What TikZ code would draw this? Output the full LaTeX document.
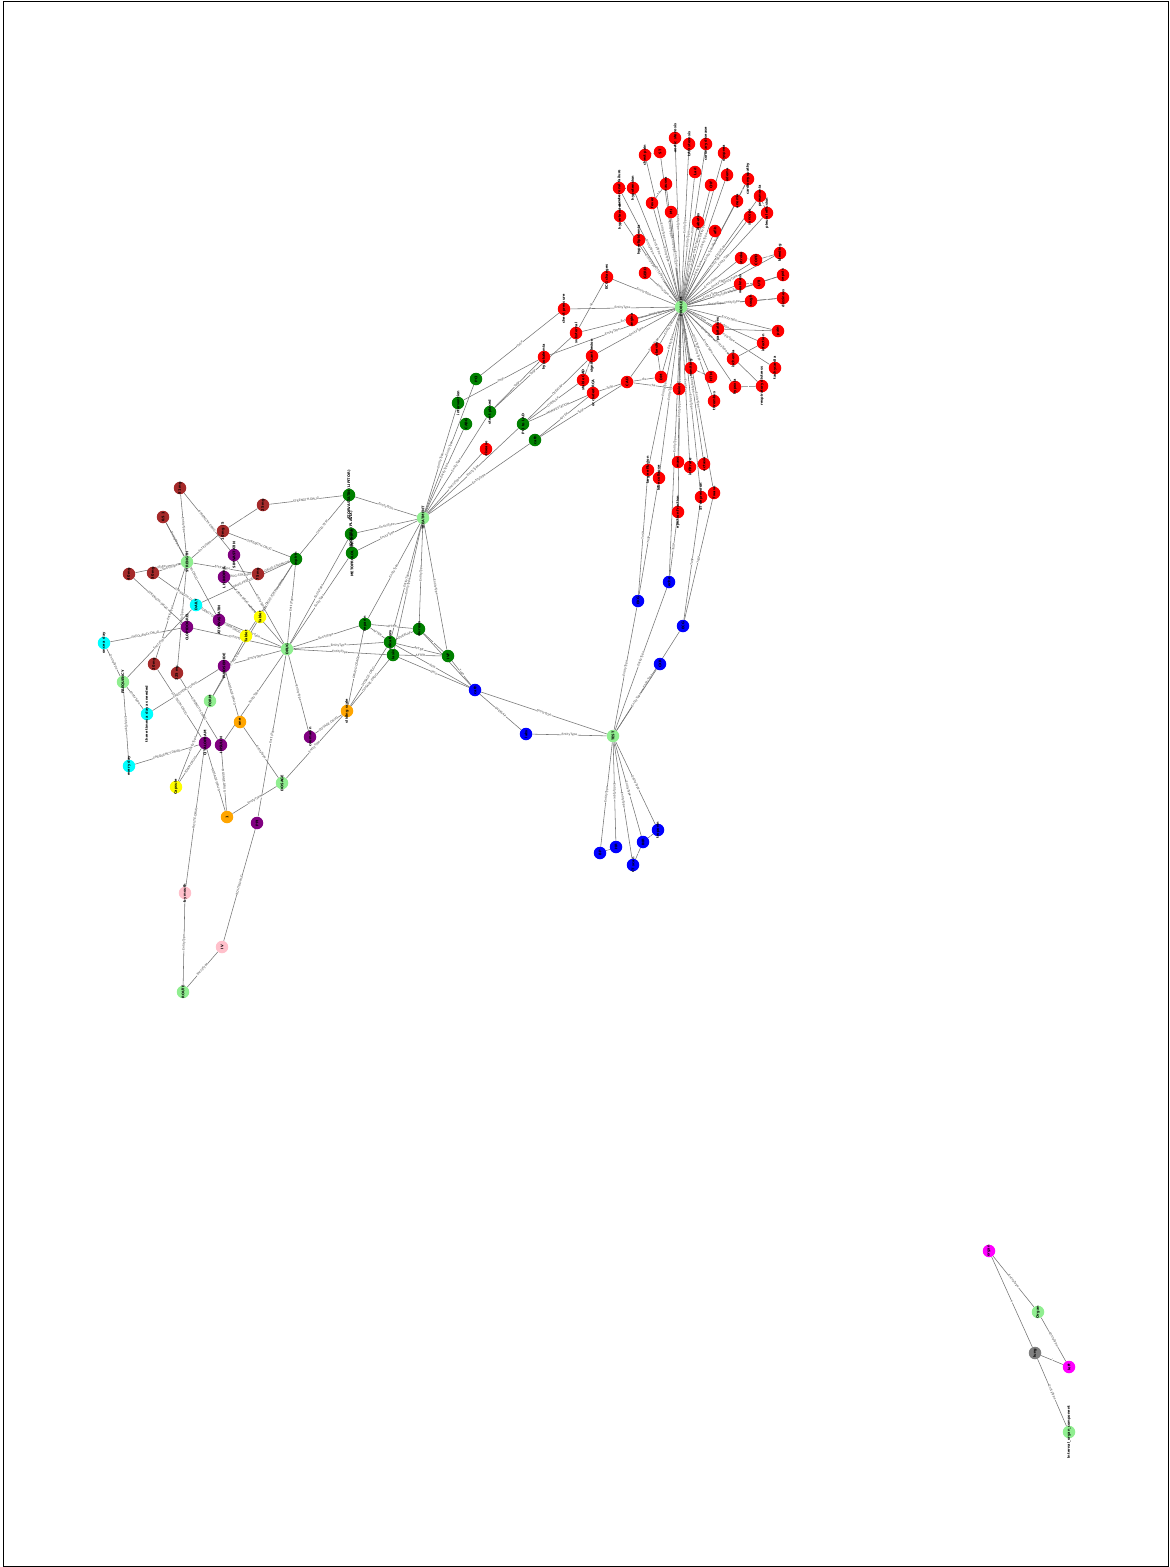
\documentclass[tikz,border=0pt]{standalone}
\usepackage{fontspec}
\setmainfont{DejaVu Sans}
\usetikzlibrary{backgrounds}
\definecolor{cRed}{HTML}{FF0000}
\definecolor{cGreen}{HTML}{008000}
\definecolor{cLight}{HTML}{90EE90}
\definecolor{cBlue}{HTML}{0000FF}
\definecolor{cBrown}{HTML}{A52A2A}
\definecolor{cPurple}{HTML}{800080}
\definecolor{cCyan}{HTML}{00FFFF}
\definecolor{cYellow}{HTML}{FFFF00}
\definecolor{cOrange}{HTML}{FFA500}
\definecolor{cPink}{HTML}{FFC0CB}
\definecolor{cMag}{HTML}{FF00FF}
\definecolor{cGray}{HTML}{808080}
\newcommand\mynd[5]{\node[dot,fill=#1,label={[lb]center:#5}] (#2) at (#3,#4) {};}
\newcommand\myed[3]{\draw[ed] (#1) -- node[el]{#3} (#2);}
\tikzset{
  dot/.style={circle,draw=none,minimum size=12.5pt,inner sep=0pt},
  lb/.style={rotate=90,font=\fontsize{3.5}{4}\selectfont\bfseries,text=black,inner sep=0pt},
  ed/.style={draw=black!55,line width=0.55pt},
  el/.style={sloped,midway,font=\fontsize{3}{3.4}\selectfont,text=black!75,fill=white,inner sep=0.2pt}
}
\begin{document}
\begin{tikzpicture}[x=1pt,y=-1pt]
\useasboundingbox (0,0) rectangle (1170,1567);
\draw[black,line width=0.8pt] (3,1) rectangle (1168,1566);
% hubs
\mynd{cLight}{H1}{681}{307}{PROBLEM}
\mynd{cLight}{TR}{423}{518}{TREATMENT}
\mynd{cLight}{TE}{613}{736}{TEST}
\mynd{cLight}{DR}{287}{649}{DRUG}
\mynd{cLight}{ST}{187}{562}{STRENGTH}
\mynd{cLight}{FQ}{123}{682}{FREQUENCY}
\mynd{cLight}{FO}{210}{701}{FORM}
\mynd{cLight}{DO}{282}{783}{DOSAGE}
\mynd{cLight}{RO}{183}{992}{ROUTE}
% red upper
\mynd{cRed}{ra}{675}{138}{aortic stenosis}
\mynd{cRed}{rb}{689}{144}{LAD stenosis}
\mynd{cRed}{rc}{706}{144}{coronary disease}
\mynd{cRed}{rd}{660}{152}{ST}
\mynd{cRed}{re}{645}{155}{chest pain}
\mynd{cRed}{rf}{724}{153}{dyspnea}
\mynd{cRed}{rg}{695}{172}{Lad}
\mynd{cRed}{rh}{666}{184}{nausea}
\mynd{cRed}{ri}{711}{185}{CHF}
\mynd{cRed}{rj}{727}{175}{edema}
\mynd{cRed}{rk}{748}{179}{cardiomyopathy}
\mynd{cRed}{rl}{619}{188}{acute renal failure}
\mynd{cRed}{rm}{633}{188}{hypotension}
\mynd{cRed}{rn}{652}{203}{fever}
\mynd{cRed}{ro}{671}{212}{MI}
\mynd{cRed}{rp}{737}{201}{anemia}
\mynd{cRed}{rq}{760}{196}{pneumonia}
\mynd{cRed}{rr}{620}{216}{hypertension}
\mynd{cRed}{rs}{698}{222}{diabetes}
\mynd{cRed}{rt}{715}{231}{afib}
\mynd{cRed}{ru}{750}{217}{syncope}
\mynd{cRed}{rv}{767}{213}{pleural effusion}
\mynd{cRed}{rw}{639}{240}{hyperlipidemia}
\mynd{cRed}{rx}{741}{258}{stroke}
\mynd{cRed}{ry}{756}{260}{COPD}
\mynd{cRed}{rz}{780}{253}{bleeding}
\mynd{cRed}{sa}{783}{275}{sepsis}
\mynd{cRed}{sb}{645}{273}{GERD}
\mynd{cRed}{sc}{607}{277}{ECG changes}
\mynd{cRed}{sd}{740}{284}{weakness}
\mynd{cRed}{se}{759}{283}{UTI}
\mynd{cRed}{sf}{751}{301}{cough}
\mynd{cRed}{sg}{783}{298}{dizziness}
\mynd{cRed}{sh}{632}{320}{angina}
\mynd{cRed}{si}{718}{329}{palpitations}
\mynd{cRed}{sj}{778}{331}{pain}
\mynd{cRed}{sk}{763}{343}{infection}
\mynd{cRed}{sl}{657}{349}{obesity}
\mynd{cRed}{sm}{733}{359}{ischemia}
\mynd{cRed}{sn}{775}{368}{tachycardia}
\mynd{cRed}{so}{691}{368}{vomiting}
\mynd{cRed}{sp}{627}{382}{CAD}
\mynd{cRed}{sq}{661}{377}{DM}
\mynd{cRed}{sr}{711}{377}{HTN}
\mynd{cRed}{ss}{679}{389}{lesion}
\mynd{cRed}{st}{735}{387}{hypoxia}
\mynd{cRed}{su}{762}{386}{respiratory distress}
\mynd{cRed}{sv}{714}{401}{thrombus}
\mynd{cRed}{ta}{564}{309}{chest pressure}
\mynd{cRed}{tb}{576}{333}{substernal}
\mynd{cRed}{tc}{544}{357}{hypokalemia}
\mynd{cRed}{td}{592}{356}{significant lesion}
\mynd{cRed}{te}{583}{380}{stable CAD}
\mynd{cRed}{tf}{593}{393}{occluded RCA}
\mynd{cRed}{tg}{486}{449}{disease}
\mynd{cRed}{ua}{648}{470}{large effusion}
\mynd{cRed}{ub}{659}{478}{lobe collapse}
\mynd{cRed}{uc}{678}{462}{mass}
\mynd{cRed}{ud}{690}{467}{infiltrate}
\mynd{cRed}{ue}{704}{464}{ectasia}
\mynd{cRed}{uf}{678}{512}{ejection fraction}
\mynd{cRed}{ug}{701}{497}{ST depression}
\mynd{cRed}{uh}{714}{493}{T wave}
% blue
\mynd{cBlue}{ba}{638}{601}{EKG}
\mynd{cBlue}{bb}{669}{582}{echo}
\mynd{cBlue}{bc}{683}{626}{ECG}
\mynd{cBlue}{bd}{660}{664}{CXR}
\mynd{cBlue}{be}{475}{690}{cath}
\mynd{cBlue}{bf}{526}{734}{labs}
\mynd{cBlue}{bg}{600}{853}{BP}
\mynd{cBlue}{bh}{616}{847}{HR}
\mynd{cBlue}{bi}{633}{865}{CT scan}
\mynd{cBlue}{bj}{643}{842}{INR}
\mynd{cBlue}{bk}{658}{830}{troponin}
% green
\mynd{cGreen}{ga}{476}{379}{PCI}
\mynd{cGreen}{gb}{458}{403}{intervention}
\mynd{cGreen}{gc}{490}{412}{stent placed}
\mynd{cGreen}{gd}{466}{424}{CABG}
\mynd{cGreen}{ge}{523}{424}{PCI to LAD}
\mynd{cGreen}{gf}{535}{440}{cath}
\mynd{cGreen}{gg}{349}{495}{ATORVASTATIN (LIPITOR)}
\mynd{cGreen}{gh}{351}{534}{CLOPIDOGREL (PLAVIX)}
\mynd{cGreen}{gi}{352}{553}{METOPROLOL TARTRATE}
\mynd{cGreen}{gj}{296}{559}{aspirin}
\mynd{cGreen}{gk}{365}{624}{heparin}
\mynd{cGreen}{gl}{419}{629}{diuresis}
\mynd{cGreen}{gm}{390}{642}{medications}
\mynd{cGreen}{gn}{393}{655}{lasix}
\mynd{cGreen}{go}{448}{656}{IVF}
% brown
\mynd{cBrown}{ka}{180}{488}{81 mg}
\mynd{cBrown}{kb}{163}{517}{0.5 1}
\mynd{cBrown}{kc}{263}{505}{25 mg}
\mynd{cBrown}{kd}{223}{531}{10 mg / 5}
\mynd{cBrown}{ke}{129}{574}{40 mg}
\mynd{cBrown}{kf}{153}{573}{50 mg}
\mynd{cBrown}{kg}{258}{574}{75 mg}
\mynd{cBrown}{kh}{154}{664}{20 mg}
\mynd{cBrown}{ki}{177}{673}{325 mg}
% purple
\mynd{cPurple}{pa}{234}{555}{SIMVASTATIN}
\mynd{cPurple}{pb}{224}{577}{LISINOPRIL}
\mynd{cPurple}{pc}{219}{620}{ATORVASTATIN}
\mynd{cPurple}{pd}{187}{627}{CLOPIDOGREL}
\mynd{cPurple}{pe}{224}{666}{FUROSEMIDE}
\mynd{cPurple}{pf}{205}{743}{CITALOPRAM}
\mynd{cPurple}{pg}{221}{745}{INSULIN}
\mynd{cPurple}{ph}{257}{823}{PPI}
\mynd{cPurple}{pi}{310}{737}{coumadin}
% cyan
\mynd{cCyan}{ca}{196}{605}{DAILY}
\mynd{cCyan}{cb}{104}{643}{once a day}
\mynd{cCyan}{cc}{147}{714}{three times a day as needed}
\mynd{cCyan}{cd}{129}{766}{every day}
% yellow
\mynd{cYellow}{ya}{260}{617}{Tablet}
\mynd{cYellow}{yb}{246}{636}{Tablet}
\mynd{cYellow}{yc}{176}{787}{Capsule}
% orange
\mynd{cOrange}{oa}{240}{722}{one}
\mynd{cOrange}{ob}{227}{817}{1}
\mynd{cOrange}{oc}{347}{711}{sliding scale}
% pink
\mynd{cPink}{qa}{185}{893}{by mouth}
\mynd{cPink}{qb}{222}{947}{IV}
% bottom right
\mynd{cMag}{m1}{989}{1251}{organ}
\mynd{cLight}{l1}{1038}{1312}{Organ}
\mynd{cGray}{g1}{1035}{1353}{lung}
\mynd{cMag}{m2}{1069}{1367}{left}
\mynd{cLight}{l2}{1069}{1432}{Internal\_organ\_component}
\begin{scope}[on background layer]
% red hub spokes
\foreach \n in {ra,rb,rc,rd,re,rf,rg,rh,ri,rj,rk,rl,rm,rn,ro,rp,rq,rr,rs,rt,ru,rv,rw,rx,ry,rz,sa,sb,sc,sd,se,sf,sg,sh,si,sj,sk,sl,sm,sn,so,sp,sq,sr,ss,st,su,sv,ta,tb,tc,td,ua,ub,uc,ud,ue,uf,ug,uh,bb}
  \draw[ed] (H1) -- node[el]{EntityType} (\n);
\myed{rl}{rm}{}
\myed{re}{rd}{}
\myed{rn}{rh}{hp}
\myed{rp}{rk}{}
\myed{rq}{rv}{}
\myed{rx}{ry}{}
\myed{ry}{rz}{}
\myed{sd}{se}{}
\myed{se}{sa}{}
\myed{sf}{sg}{}
\myed{si}{sj}{}
\myed{sk}{sm}{}
\myed{so}{sr}{}
\myed{st}{su}{}
\myed{sl}{sq}{}
\myed{rr}{rl}{}
\myed{sp}{sq}{dis}
\myed{sp}{ss}{cha}
\myed{tb}{sc}{up}
\myed{te}{td}{}
\myed{tf}{sp}{TeSP}
\myed{ua}{ub}{}
\myed{uc}{ud}{}
\myed{ud}{ue}{}
\myed{ug}{uh}{}
% red to green
\myed{ga}{ta}{TeSP}
\myed{gb}{tc}{TeSP}
\myed{gc}{tc}{TeSP}
\myed{gc}{tb}{TeSP}
\myed{ge}{te}{OVERLAP}
\myed{ge}{tf}{MANIFESTATION}
\myed{ge}{td}{OVERLAP}
\myed{gf}{tf}{AFTER}
\myed{gf}{sp}{TeSP}
% lower reds to blue
\myed{ua}{ba}{TeSP}
\myed{ub}{ba}{TeSP}
\myed{uf}{bb}{TeSP}
\myed{ug}{bc}{TeSP}
\myed{uh}{bc}{TeSP}
% TEST hub
\foreach \n in {ba,bb,bc,bd,be,bf,bg,bh,bi,bj,bk}
  \draw[ed] (TE) -- node[el]{EntityType} (\n);
\myed{bg}{bh}{}
\myed{bj}{bk}{}
\myed{bi}{bj}{}
\myed{be}{bf}{OVERLAP}
\myed{be}{gm}{data}
\myed{be}{gn}{data}
\myed{be}{go}{TeSP}
\myed{be}{gl}{}
% TREATMENT hub
\foreach \n in {ga,gb,gc,gd,ge,gf,tg,gg,gh,gi,gk,gl,gm,gn,go}
  \draw[ed] (TR) -- node[el]{EntityType} (\n);
\myed{gk}{gl}{AFTER}
\myed{gk}{gm}{AFTER}
\myed{gl}{gm}{OVERLAP}
\myed{gm}{go}{AFTER}
\myed{gn}{go}{AFTER}
\myed{gl}{go}{}
\myed{gj}{gg}{DRUG-TEST}
% DRUG hub
\foreach \n in {pa,pb,pc,pd,pe,pg,ph,pi,gj,gh,gi,gk,gm,gn}
  \draw[ed] (DR) -- node[el]{EntityType} (\n);
% STRENGTH
\foreach \n in {ka,kb,kd,ke,kf,kg,kh,ki}
  \draw[ed] (ST) -- node[el]{EntityType} (\n);
\myed{ka}{pa}{STRENGTH-DRUG}
\myed{kb}{pc}{STRENGTH-DRUG}
\myed{kc}{kd}{}
\myed{kc}{gg}{STRENGTH-DRUG}
\myed{kd}{gj}{STRENGTH-DRUG}
\myed{ke}{pd}{STRENGTH-DRUG}
\myed{kf}{pc}{STRENGTH-DRUG}
\myed{kg}{pb}{DRUG-STRENGTH}
\myed{kg}{gj}{DRUG-STRENGTH}
\myed{kh}{pf}{STRENGTH-DRUG}
\myed{ki}{pg}{STRENGTH-DRUG}
% FREQUENCY
\foreach \n in {ca,cb,cc,cd}
  \draw[ed] (FQ) -- node[el]{EntityType} (\n);
\myed{cb}{pd}{FREQUENCY-DRUG}
\myed{cc}{pe}{FREQUENCY-DRUG}
\myed{cd}{pf}{FREQUENCY-DRUG}
\myed{ca}{pc}{FREQUENCY-DRUG}
\myed{ca}{gj}{DRUG-FREQUENCY}
% FORM
\foreach \n in {ya,yb,yc}
  \draw[ed] (FO) -- node[el]{EntityType} (\n);
\myed{ya}{pb}{FORM-DRUG}
\myed{yb}{pc}{FORM-DRUG}
\myed{yc}{pf}{FORM-DRUG}
\myed{ya}{gj}{DRUG-FORM}
\myed{yb}{gj}{DRUG-FORM}
% DOSAGE
\foreach \n in {oa,ob,oc}
  \draw[ed] (DO) -- node[el]{EntityType} (\n);
\myed{pf}{ob}{DOSAGE-DRUG}
\myed{pg}{ob}{DOSAGE-DRUG}
\myed{oa}{pe}{DOSAGE-DRUG}
\myed{oc}{pi}{DOSAGE-DRUG}
\myed{oc}{gn}{DOSAGE-DRUG}
\myed{oc}{gm}{DOSAGE-DRUG}
\myed{oc}{gk}{DRUG-DOSAGE}
% ROUTE
\myed{qa}{RO}{EntityType}
\myed{qb}{RO}{EntityType}
\myed{qa}{pf}{ROUTE-DRUG}
\myed{qb}{ph}{ROUTE-DRUG}
% bottom right
\myed{m1}{l1}{EntityType}
\myed{l1}{m2}{EntityType}
\myed{m1}{g1}{/}
\myed{g1}{m2}{/}
\myed{g1}{l2}{EntityType}
\end{scope}
\end{tikzpicture}
\end{document}
